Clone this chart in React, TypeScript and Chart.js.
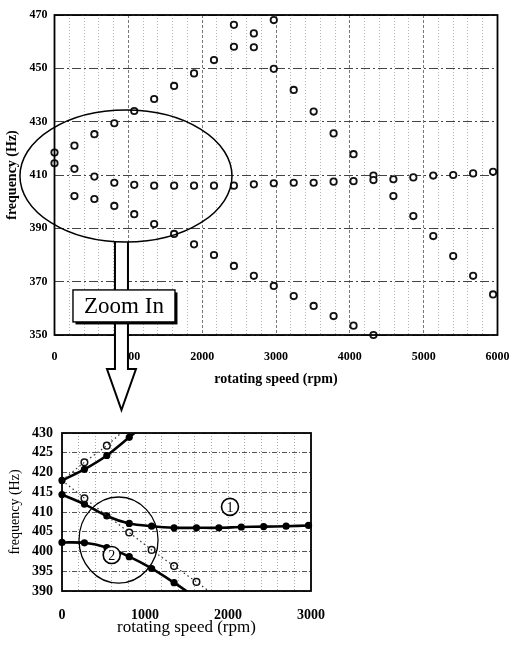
import React, { useEffect, useRef } from "react";
import { Chart, registerables } from "chart.js";

Chart.register(...registerables);

const SERIF = '"Liberation Serif", "Times New Roman", serif';

// ---------- overview chart (0-6000 rpm) ----------
const topSpeeds = [0, 270, 540, 810, 1080, 1350, 1620, 1890, 2160, 2430, 2700, 2970, 3240, 3510, 3780, 4050, 4320, 4590, 4860, 5130, 5400, 5670, 5940];
const topMode1 = [414.4, 412.3, 409.4, 407.1, 406.3, 406.0, 406.0, 406.0, 406.0, 406.0, 406.5, 406.9, 407.1, 407.1, 407.5, 407.7, 408.1, 408.4, 409.1, 409.8, 410.0, 410.6, 411.2];
const topRisingSpeeds = [0, 270, 540, 810, 1080, 1350, 1620, 1890, 2160, 2430, 2700, 2970];
const topRising = [418.4, 421.0, 425.3, 429.4, 434.0, 438.5, 443.4, 448.1, 453.1, 458.1, 463.1, 468.1];
const topFallingSpeeds = [2430, 2700, 2970, 3240, 3510, 3780, 4050, 4320, 4590, 4860, 5130, 5400, 5670, 5940];
const topFalling = [466.3, 457.9, 449.8, 441.9, 433.8, 425.6, 417.8, 409.8, 402.1, 394.6, 387.1, 379.6, 372.2, 365.2];
const topLowerSpeeds = [270, 540, 810, 1080, 1350, 1620, 1890, 2160, 2430, 2700, 2970, 3240, 3510, 3780, 4050, 4320];
const topLower = [402.1, 401.0, 398.4, 395.3, 391.6, 387.9, 384.0, 380.0, 375.9, 372.2, 368.4, 364.6, 360.9, 357.1, 353.5, 350.0];

// ---------- zoomed chart (0-3000 rpm) ----------
const zoomSpeeds = [0, 270, 540, 810, 1080, 1350, 1620, 1890, 2160, 2430, 2700, 2970];
const zoomMode1Calc = [414.4, 412.0, 409.0, 407.1, 406.4, 406.0, 406.0, 406.0, 406.2, 406.3, 406.4, 406.6];
const zoomUpperCalcSpeeds = [0, 270, 540, 810, 920];
const zoomUpperCalc = [418.0, 420.8, 424.3, 428.9, 430.8];
const zoomMode2CalcSpeeds = [0, 270, 540, 810, 1080, 1350, 1540];
const zoomMode2Calc = [402.3, 402.2, 401.0, 398.7, 395.7, 392.1, 389.4];
const measuredUpperSpeeds = [270, 540];
const measuredUpper = [422.6, 426.8];
const measuredLowerSpeeds = [270, 810, 1080, 1350, 1620];
const measuredLower = [413.5, 404.8, 400.4, 396.3, 392.3];
const dottedUpperSpeeds = [0, 270, 540, 740];
const dottedUpper = [418.0, 422.6, 426.8, 430.5];
const dottedLowerSpeeds = [0, 270, 810, 1080, 1350, 1620, 1800];
const dottedLower = [418.0, 413.5, 404.8, 400.4, 396.3, 392.3, 389.5];

// annotation anchors (data space)
const ELLIPSE = { rpm: 968, hz: 409.6, rRpm: 1436, rHz: 24.75 };
const ARROW_RPM = 907;
const ZOOM_BOX = { rpm: 941, hz: 360.9, label: "Zoom In" };
const CIRCLE = { rpm: 681, hz: 402.9, rRpm: 476, rHz: 10.9 };
const MARK1 = { rpm: 2024, hz: 411.3, label: "1" };
const MARK2 = { rpm: 599, hz: 399.1, label: "2" };

const pts = (xs: number[], ys: number[]) => xs.map((x, i) => ({ x, y: ys[i] }));

const openPoint = {
  showLine: false,
  pointRadius: 3.2,
  pointBorderWidth: 1.8,
  pointBorderColor: "#111",
  pointBackgroundColor: "#fff",
  clip: false as const,
};

const topOverlay = {
  id: "topOverlay",
  afterDraw(chart: any) {
    const { ctx, chartArea: a, scales } = chart;
    const x = scales.x, y = scales.y;
    ctx.save();
    ctx.strokeStyle = "#000";
    ctx.lineWidth = 1.8;
    ctx.strokeRect(a.left, a.top, a.right - a.left, a.bottom - a.top);

    const cx = x.getPixelForValue(ELLIPSE.rpm);
    const cy = y.getPixelForValue(ELLIPSE.hz);
    const rx = Math.abs(x.getPixelForValue(ELLIPSE.rpm + ELLIPSE.rRpm) - cx);
    const ry = Math.abs(y.getPixelForValue(ELLIPSE.hz + ELLIPSE.rHz) - cy);

    // arrow
    const ax = x.getPixelForValue(ARROW_RPM);
    const sw = 6.5, hw = 14.5;
    const ey = (px: number) => cy + ry * Math.sqrt(Math.max(0, 1 - ((px - cx) / rx) ** 2));
    const headTop = a.bottom + 34;
    const tip = a.bottom + 75;
    const arrowPath = () => {
      ctx.beginPath();
      ctx.moveTo(ax - sw, ey(ax - sw));
      ctx.lineTo(ax - sw, headTop);
      ctx.lineTo(ax - hw, headTop);
      ctx.lineTo(ax, tip);
      ctx.lineTo(ax + hw, headTop);
      ctx.lineTo(ax + sw, headTop);
      ctx.lineTo(ax + sw, ey(ax + sw));
    };
    arrowPath();
    ctx.closePath();
    ctx.fillStyle = "#fff";
    ctx.fill();
    arrowPath();
    ctx.lineWidth = 2;
    ctx.lineJoin = "miter";
    ctx.stroke();

    // ellipse
    ctx.beginPath();
    ctx.ellipse(cx, cy, rx, ry, 0, 0, Math.PI * 2);
    ctx.lineWidth = 1.5;
    ctx.stroke();

    // zoom box
    const bx = x.getPixelForValue(ZOOM_BOX.rpm);
    const by = y.getPixelForValue(ZOOM_BOX.hz);
    const bw = 102, bh = 32;
    ctx.fillStyle = "#000";
    ctx.fillRect(bx - bw / 2 + 2.5, by - bh / 2 + 2.5, bw, bh);
    ctx.fillStyle = "#fff";
    ctx.fillRect(bx - bw / 2, by - bh / 2, bw, bh);
    ctx.lineWidth = 1.4;
    ctx.strokeRect(bx - bw / 2, by - bh / 2, bw, bh);
    ctx.fillStyle = "#000";
    ctx.font = `23px ${SERIF}`;
    ctx.textAlign = "center";
    ctx.textBaseline = "middle";
    ctx.fillText(ZOOM_BOX.label, bx, by + 1);
    ctx.restore();
  },
};

const bottomOverlay = {
  id: "bottomOverlay",
  afterDraw(chart: any) {
    const { ctx, chartArea: a, scales } = chart;
    const x = scales.x, y = scales.y;
    ctx.save();
    ctx.strokeStyle = "#000";
    ctx.lineWidth = 1.8;
    ctx.strokeRect(a.left, a.top, a.right - a.left, a.bottom - a.top);

    const cx = x.getPixelForValue(CIRCLE.rpm);
    const cy = y.getPixelForValue(CIRCLE.hz);
    const rx = Math.abs(x.getPixelForValue(CIRCLE.rpm + CIRCLE.rRpm) - cx);
    const ry = Math.abs(y.getPixelForValue(CIRCLE.hz + CIRCLE.rHz) - cy);
    ctx.beginPath();
    ctx.ellipse(cx, cy, rx, ry, 0, 0, Math.PI * 2);
    ctx.lineWidth = 1.3;
    ctx.stroke();

    for (const m of [MARK1, MARK2]) {
      const mx = x.getPixelForValue(m.rpm);
      const my = y.getPixelForValue(m.hz);
      ctx.beginPath();
      ctx.arc(mx, my, 8.5, 0, Math.PI * 2);
      ctx.fillStyle = "#fff";
      ctx.fill();
      ctx.lineWidth = 1.6;
      ctx.stroke();
      ctx.fillStyle = "#000";
      ctx.font = `14px ${SERIF}`;
      ctx.textAlign = "center";
      ctx.textBaseline = "middle";
      ctx.fillText(m.label, mx, my + 1);
    }
    ctx.restore();
  },
};

export default function App() {
  const topRef = useRef<HTMLCanvasElement | null>(null);
  const botRef = useRef<HTMLCanvasElement | null>(null);

  useEffect(() => {
    const top = new Chart(topRef.current as HTMLCanvasElement, {
      type: "scatter",
      data: {
        datasets: [
          { data: pts(topSpeeds, topMode1), ...openPoint },
          { data: pts(topRisingSpeeds, topRising), ...openPoint },
          { data: pts(topFallingSpeeds, topFalling), ...openPoint },
          { data: pts(topLowerSpeeds, topLower), ...openPoint },
        ],
      },
      options: {
        responsive: false,
        animation: false,
        layout: { padding: { top: 15, right: 12.5, left: 0, bottom: 0 } },
        plugins: { legend: { display: false }, tooltip: { enabled: false } },
        scales: {
          x: {
            type: "linear",
            min: 0,
            max: 6000,
            afterFit: (s: any) => {
              s.height = 80;
              s.paddingRight = 0;
              s.paddingLeft = 0;
            },
            ticks: {
              stepSize: 200,
              autoSkip: false,
              maxRotation: 0,
              padding: 14.8,
              color: "#000",
              font: { family: SERIF, size: 12, weight: "bold" },
              callback: (v: any) => (Number(v) % 1000 === 0 ? String(v) : ""),
            },
            grid: {
              drawTicks: false,
              lineWidth: 1,
              color: (c: any) => (c.tick && c.tick.value % 1000 === 0 ? "#777" : "#b4b4b4"),
            },
            border: {
              display: false,
              dash: (c: any) => (c.tick && c.tick.value % 1000 === 0 ? [3, 2] : [1, 2]),
            },
            title: {
              display: true,
              text: "rotating speed (rpm)",
              color: "#000",
              font: { family: SERIF, size: 14, weight: "bold" },
              padding: { top: 0, bottom: 27.6 },
            },
          },
          y: {
            type: "linear",
            min: 350,
            max: 470,
            afterFit: (s: any) => {
              s.width = 54.5;
              s.paddingTop = 0;
              s.paddingBottom = 0;
            },
            ticks: {
              stepSize: 20,
              autoSkip: false,
              padding: 7,
              color: "#000",
              font: { family: SERIF, size: 12, weight: "bold" },
            },
            grid: { drawTicks: false, lineWidth: 1, color: "#444" },
            border: { display: false, dash: [9, 3, 2, 3] },
            title: {
              display: true,
              text: "frequency (Hz)",
              color: "#000",
              font: { family: SERIF, size: 14, weight: "bold" },
              padding: { top: 3.6, bottom: 0 },
            },
          },
        },
      },
      plugins: [topOverlay],
    } as any);

    const lineSolid = {
      showLine: true,
      borderColor: "#000",
      borderWidth: 2.6,
      pointRadius: 0,
      tension: 0.25,
      fill: false,
    };
    const lineDotted = {
      showLine: true,
      borderColor: "#333",
      borderWidth: 1.2,
      borderDash: [1.5, 3],
      pointRadius: 0,
      tension: 0,
      fill: false,
    };
    const filledPoint = {
      showLine: false,
      pointRadius: 3.6,
      pointBorderWidth: 0,
      pointBackgroundColor: "#000",
      clip: false as const,
    };
    const hollowPoint = {
      showLine: false,
      pointRadius: 3.3,
      pointBorderWidth: 1.5,
      pointBorderColor: "#111",
      pointBackgroundColor: "#fff",
      clip: false as const,
    };

    const bot = new Chart(botRef.current as HTMLCanvasElement, {
      type: "scatter",
      data: {
        datasets: [
          { data: pts(dottedUpperSpeeds, dottedUpper), ...lineDotted },
          { data: pts(dottedLowerSpeeds, dottedLower), ...lineDotted },
          { data: pts(zoomSpeeds, zoomMode1Calc), ...lineSolid },
          { data: pts(zoomUpperCalcSpeeds, zoomUpperCalc), ...lineSolid },
          { data: pts(zoomMode2CalcSpeeds, zoomMode2Calc), ...lineSolid },
          { data: pts(measuredUpperSpeeds, measuredUpper), ...hollowPoint },
          { data: pts(measuredLowerSpeeds, measuredLower), ...hollowPoint },
          { data: pts(zoomSpeeds, zoomMode1Calc), ...filledPoint },
          { data: pts(zoomUpperCalcSpeeds.slice(0, -1), zoomUpperCalc.slice(0, -1)), ...filledPoint },
          { data: pts(zoomMode2CalcSpeeds.slice(0, -1), zoomMode2Calc.slice(0, -1)), ...filledPoint },
        ],
      },
      options: {
        responsive: false,
        animation: false,
        layout: { padding: { top: 18, right: 19, left: 0, bottom: 0 } },
        plugins: { legend: { display: false }, tooltip: { enabled: false } },
        scales: {
          x: {
            type: "linear",
            min: 0,
            max: 3000,
            afterFit: (s: any) => {
              s.height = 55;
              s.paddingRight = 0;
              s.paddingLeft = 0;
            },
            ticks: {
              stepSize: 200,
              autoSkip: false,
              maxRotation: 0,
              padding: 15.6,
              color: "#000",
              font: { family: SERIF, size: 14, weight: "bold" },
              callback: (v: any) => (Number(v) % 1000 === 0 ? String(v) : ""),
            },
            grid: { drawTicks: false, lineWidth: 1, color: "#aaa" },
            border: { display: false, dash: [1, 2] },
            title: {
              display: true,
              text: "rotating speed (rpm)",
              color: "#000",
              font: { family: SERIF, size: 17 },
              padding: { top: 0, bottom: 7.8 },
            },
          },
          y: {
            type: "linear",
            min: 390,
            max: 430,
            afterFit: (s: any) => {
              s.width = 62;
              s.paddingTop = 0;
              s.paddingBottom = 0;
            },
            ticks: {
              stepSize: 5,
              autoSkip: false,
              padding: 9,
              color: "#000",
              font: { family: SERIF, size: 14, weight: "bold" },
            },
            grid: { drawTicks: false, lineWidth: 1, color: "#555" },
            border: { display: false, dash: [5, 2, 1, 2] },
            title: {
              display: true,
              text: "frequency (Hz)",
              color: "#000",
              font: { family: SERIF, size: 14 },
              padding: { top: 6.6, bottom: 0 },
            },
          },
        },
      },
      plugins: [bottomOverlay],
    } as any);

    return () => {
      top.destroy();
      bot.destroy();
    };
  }, []);

  return (
    <div style={{ position: "fixed", left: 0, top: 0, width: 510, height: 646, background: "#fff", overflow: "hidden" }}>
      <canvas ref={topRef} width={510} height={415} style={{ position: "absolute", left: 0, top: 0, display: "block" }} />
      <canvas ref={botRef} width={330} height={231} style={{ position: "absolute", left: 0, top: 415, display: "block" }} />
    </div>
  );
}
